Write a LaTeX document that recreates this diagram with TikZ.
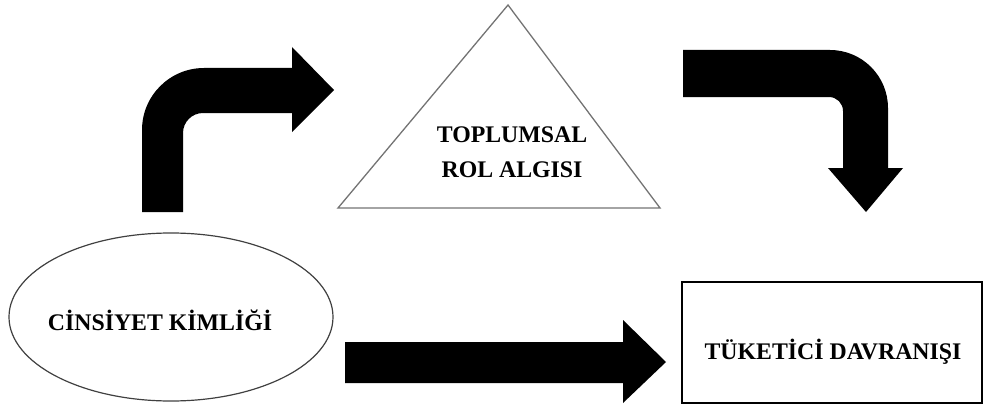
\documentclass[tikz,border=0pt]{standalone}
\usepackage{fontspec}
\setmainfont{Liberation Serif}
\usetikzlibrary{shapes.geometric}
\begin{document}
\begin{tikzpicture}[x=1pt,y=1pt,
  lbl/.style={font=\fontsize{23.8}{35}\selectfont\bfseries, inner sep=0pt, align=center},
  blockarrow/.style={fill=black, draw=none}]
\useasboundingbox (0,0) rectangle (985,408);
% triangle
\coordinate (tA) at (508,403);
\coordinate (tL) at (338,200);
\coordinate (tR) at (660,200);
\draw[draw=black!55, line width=1.3pt] (tA) -- (tR) -- (tL) -- cycle;
\node[lbl] (toplumsal) at (512,255.5) {TOPLUMSAL\\ROL ALGISI};
% ellipse
\node[ellipse, draw=black!75, line width=1.2pt, minimum width=324pt, minimum height=168pt, inner sep=0pt] (cinsiyet) at (171,91) {};
\node[lbl] (cinsiyettext) at (160,88) {CİNSİYET KİMLİĞİ};
% rectangle
\node[rectangle, draw=black, line width=2.2pt, minimum width=300pt, minimum height=121pt, inner sep=0pt] (tuketici) at (832,65.5) {};
\node[lbl] (tuketicitext) at (833,56) {TÜKETİCİ DAVRANIŞI};
% arrow 1 (up then right)
\fill[blockarrow] (142,196) -- (142,278) arc[start angle=180, end angle=90, radius=62pt]
  -- (292,340) -- (292,361) -- (334,318) -- (292,276) -- (292,295) -- (203,295)
  arc[start angle=90, end angle=180, radius=20pt] -- (183,196) -- cycle;
% arrow 2 (right then down)
\fill[blockarrow] (683,358) -- (830,358) arc[start angle=90, end angle=0, radius=58pt]
  -- (888,240) -- (903,240) -- (866,196) -- (828,240) -- (843,240) -- (843,297)
  arc[start angle=0, end angle=90, radius=14pt] -- (683,311) -- cycle;
% arrow 3 (straight right)
\fill[blockarrow] (345,66) -- (623,66) -- (623,88) -- (666,46) -- (623,5) -- (623,25) -- (345,25) -- cycle;
\end{tikzpicture}
\end{document}
